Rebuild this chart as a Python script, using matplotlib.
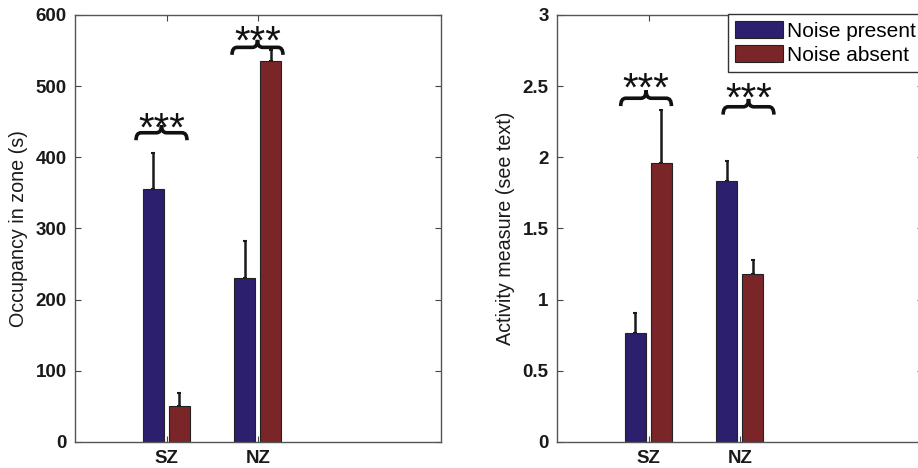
import matplotlib.pyplot as plt
from matplotlib.path import Path
from matplotlib.patches import PathPatch
import numpy as np

plt.rcParams['font.family'] = ['Liberation Sans', 'DejaVu Sans']

zones = ["SZ", "NZ"]
series = ["Noise present", "Noise absent"]
colors = ["#2c1f6e", "#7a2629"]

occ_present = [355, 231]
occ_absent = [51, 536]
occ_present_err = [51, 51]
occ_absent_err = [18, 15]

act_present = [0.765, 1.835]
act_absent = [1.96, 1.18]
act_present_err = [0.14, 0.14]
act_absent_err = [0.37, 0.10]

# significance marks: (x0, x1, y_bottom, y_top, star_y)
occ_sig = [(0.667, 1.224, 424, 445, 424), (1.716, 2.273, 544, 565, 546)]
act_sig = [(0.696, 1.25, 2.36, 2.47, 2.40), (1.815, 2.37, 2.30, 2.41, 2.33)]


def brace(ax, x0, x1, y0, y1):
    xm = (x0 + x1) / 2
    ym = (y0 + y1) / 2
    dx = (x1 - x0) * 0.1
    verts = [(x0, y0), (x0, ym), (x0 + dx, ym),
             (xm - dx, ym), (xm, ym), (xm, y1),
             (xm, ym), (xm + dx, ym),
             (x1 - dx, ym), (x1, ym), (x1, y0)]
    codes = [Path.MOVETO, Path.CURVE3, Path.CURVE3,
             Path.LINETO, Path.CURVE3, Path.CURVE3,
             Path.CURVE3, Path.CURVE3,
             Path.LINETO, Path.CURVE3, Path.CURVE3]
    ax.add_patch(PathPatch(Path(verts, codes), fill=False, lw=2.6,
                           color="#111111", capstyle="butt"))


def panel(ax, present, absent, perr, aerr, sig, ylim, yticks, ylabel, lx):
    x = np.arange(1, len(zones) + 1)
    w = 0.23
    for off, vals, errs, c in [(-0.145, present, perr, colors[0]),
                               (0.14, absent, aerr, colors[1])]:
        ax.bar(x + off, vals, w, color=c, edgecolor="#222222", lw=0.8,
               zorder=2)
        ax.errorbar(x + off, vals, yerr=[np.zeros(len(vals)), errs],
                    fmt="none", ecolor="#1a1a1a", elinewidth=1.8,
                    capsize=1.5, capthick=1.5, zorder=1)
    for x0, x1, yb, yt, ys in sig:
        brace(ax, x0, x1, yb, yt)
        ax.text((x0 + x1) / 2, ys, "***", ha="center", va="baseline",
                fontsize=29, color="#111111")
    ax.set_xlim(0, 4)
    ax.set_ylim(*ylim)
    ax.set_xticks(x)
    ax.set_xticklabels(zones)
    ax.set_yticks(yticks)
    ax.set_yticklabels([("%g" % t) for t in yticks])
    ax.tick_params(direction="in", length=4, top=True, right=True,
                   labelsize=13.5, pad=6, color="#444444")
    for lab in ax.get_xticklabels() + ax.get_yticklabels():
        lab.set_fontweight("bold")
        lab.set_color("#1a1a1a")
    for s in ax.spines.values():
        s.set_color("#555555")
        s.set_linewidth(1.0)
    ax.set_ylabel(ylabel, fontsize=14.2, color="#1a1a1a")
    ax.yaxis.set_label_coords(lx, 0.5)


fig = plt.figure(figsize=(9.18, 4.68), dpi=100)
ax1 = fig.add_axes([0.0817, 0.0556, 0.3987, 0.9124])
ax2 = fig.add_axes([0.6068, 0.0556, 0.3987, 0.9124])

panel(ax1, occ_present, occ_absent, occ_present_err, occ_absent_err,
      occ_sig, (0, 600), [0, 100, 200, 300, 400, 500, 600],
      "Occupancy in zone (s)", -0.128)
panel(ax2, act_present, act_absent, act_present_err, act_absent_err,
      act_sig, (0, 3), [0, 0.5, 1, 1.5, 2, 2.5, 3],
      "Activity measure (see text)", -0.115)

handles = [plt.Rectangle((0, 0), 1, 1, fc=c, ec="#222222", lw=0.8)
           for c in colors]
leg = ax2.legend(handles, series, loc="upper left",
                 bbox_to_anchor=(0.467, 1.002), borderaxespad=0,
                 fontsize=15, fancybox=False, handlelength=2.3,
                 handleheight=0.85, handletextpad=0.2, labelspacing=0.2,
                 borderpad=0.35, framealpha=1)
leg.get_frame().set_edgecolor("#333333")
leg.get_frame().set_linewidth(1.0)

fig.savefig("out.png", dpi=100)
